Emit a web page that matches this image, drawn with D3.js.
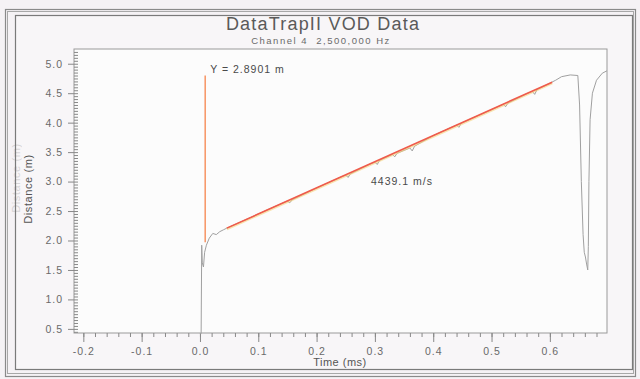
<!DOCTYPE html>
<html>
<head>
<meta charset="utf-8">
<title>DataTrapII VOD Data</title>
<script src="https://cdn.jsdelivr.net/npm/d3@7"></script>
<style>
  body { margin: 0; background: #f5f2f5; }
  svg { display: block; font-family: "Liberation Sans", Arial, sans-serif; }
</style>
</head>
<body>
<svg width="640" height="379"></svg>
<script>
// trace: time (ms) / distance (m)
var traceTime = [0.000, 0.002, 0.003, 0.004, 0.006, 0.008, 0.011, 0.016, 0.022, 0.028, 0.034, 0.040, 0.046,
  0.080, 0.120, 0.150, 0.154, 0.158, 0.200, 0.240, 0.250, 0.254, 0.258, 0.290, 0.300, 0.304, 0.308,
  0.330, 0.334, 0.338, 0.360, 0.364, 0.368, 0.400, 0.440, 0.444, 0.448, 0.500, 0.520, 0.524, 0.528,
  0.560, 0.570, 0.574, 0.578, 0.600, 0.610, 0.620, 0.635, 0.648, 0.651, 0.654, 0.657, 0.659, 0.661,
  0.663, 0.665, 0.666, 0.667, 0.669, 0.673, 0.680, 0.690, 0.698];
var traceDist = [0.42, 0.42, 1.92, 1.62, 1.55, 1.80, 1.92, 2.04, 2.12, 2.10, 2.15, 2.18, 2.21,
  2.36, 2.54, 2.67, 2.64, 2.69, 2.89, 3.07, 3.11, 3.07, 3.13, 3.29, 3.33, 3.29, 3.36,
  3.46, 3.42, 3.48, 3.57, 3.52, 3.60, 3.78, 3.96, 3.92, 3.99, 4.22, 4.31, 4.27, 4.33,
  4.49, 4.53, 4.48, 4.56, 4.67, 4.72, 4.78, 4.81, 4.80, 4.30, 3.00, 2.10, 1.80, 1.72,
  1.60, 1.50, 1.90, 3.00, 4.05, 4.50, 4.72, 4.84, 4.88];

var fitTime = [0.046, 0.604];
var velocity = 4439.1;           // m/s -> m/ms = 4.4391
var fitStart = 2.21;
var markerTime = 0.009;
var markerRange = [1.97, 4.80];

var xTicks = [-0.2, -0.1, 0.0, 0.1, 0.2, 0.3, 0.4, 0.5, 0.6];
var yTicks = [0.5, 1.0, 1.5, 2.0, 2.5, 3.0, 3.5, 4.0, 4.5, 5.0];

var svg = d3.select("svg");
var plotLeft = 74, plotRight = 607, plotTop = 49, plotBottom = 333;

var x = d3.scaleLinear().domain([-0.216, 0.698]).range([plotLeft, plotRight]);
var y = d3.scaleLinear().domain([0.43, 5.25]).range([plotBottom, plotTop]);
var fmt = function(d) { return d3.format(".1f")(d).replace("\u2212", "-"); };

// frames
svg.append("rect").attr("x", 5.5).attr("y", 9.5).attr("width", 630).attr("height", 367)
  .attr("fill", "none").attr("stroke", "#8a8a8a").attr("stroke-width", 1.2);
svg.append("rect").attr("x", 7.5).attr("y", 11.5).attr("width", 626).attr("height", 362)
  .attr("fill", "none").attr("stroke", "#a8a8a8").attr("stroke-width", 1);
svg.append("rect").attr("x", 15.5).attr("y", 15.5).attr("width", 617).attr("height", 354)
  .attr("fill", "#f8f6f8").attr("stroke", "#7a7a7a").attr("stroke-width", 1.2);

// faint ghost of the axis title printed through the page
svg.append("text").attr("transform", "translate(20,178) rotate(-90)").attr("text-anchor", "middle")
  .attr("font-size", 11).attr("letter-spacing", 0.6).attr("fill", "#777").attr("opacity", 0.25)
  .text("Distance (m)");

// plot box
svg.append("rect").attr("x", plotLeft).attr("y", plotTop)
  .attr("width", plotRight - plotLeft).attr("height", plotBottom - plotTop)
  .attr("fill", "#fcfcfc").attr("stroke", "#9a9a9a").attr("stroke-width", 1);

// titles
svg.append("text").attr("x", 323).attr("y", 30).attr("text-anchor", "middle")
  .attr("font-size", 18).attr("letter-spacing", 1.2).attr("fill", "#5a5a5a").text("DataTrapII VOD Data");
svg.append("text").attr("x", 321).attr("y", 44).attr("text-anchor", "middle")
  .attr("font-size", 9.5).attr("letter-spacing", 1.5).attr("fill", "#6a6a6a")
  .attr("xml:space", "preserve").text("Channel 4  2,500,000 Hz");

// x axis: minor then major
var gxMinor = svg.append("g").attr("transform", "translate(0," + plotBottom + ")")
  .call(d3.axisBottom(x).tickValues(d3.range(-0.2, 0.7, 0.02)).tickSize(4).tickFormat(""));
var gxMajor = svg.append("g").attr("transform", "translate(0," + plotBottom + ")")
  .call(d3.axisBottom(x).tickValues(xTicks).tickSize(9).tickPadding(6).tickFormat(fmt));
[gxMinor, gxMajor].forEach(function(g) {
  g.select("path.domain").remove();
  g.selectAll("line").attr("stroke", "#888");
});
gxMajor.selectAll("text").attr("fill", "#6a6a6a").attr("font-size", 10.5).attr("letter-spacing", 1);

// y axis: minor ticks inside, major ticks outside
var gyMinor = svg.append("g").attr("transform", "translate(" + plotLeft + ",0)")
  .call(d3.axisRight(y).tickValues(d3.range(0.45, 5.25, 0.05)).tickSize(4).tickFormat(""));
var gyMajor = svg.append("g").attr("transform", "translate(" + plotLeft + ",0)")
  .call(d3.axisLeft(y).tickValues(yTicks).tickSize(6).tickPadding(5).tickFormat(fmt));
[gyMinor, gyMajor].forEach(function(g) {
  g.select("path.domain").remove();
  g.selectAll("line").attr("stroke", "#888");
});
gyMajor.selectAll("text").attr("fill", "#6a6a6a").attr("font-size", 10.5).attr("letter-spacing", 1);

svg.append("text").attr("x", 340).attr("y", 366).attr("text-anchor", "middle")
  .attr("font-size", 11).attr("letter-spacing", 0.5).attr("fill", "#555").text("Time (ms)");
svg.append("text").attr("transform", "translate(32,189) rotate(-90)").attr("text-anchor", "middle")
  .attr("font-size", 11).attr("letter-spacing", 0.6).attr("fill", "#555").text("Distance (m)");

// data trace
var trace = d3.zip(traceTime, traceDist);
svg.append("path").datum(trace)
  .attr("d", d3.line().x(function(d) { return x(d[0]); }).y(function(d) { return y(d[1]); }))
  .attr("fill", "none").attr("stroke", "#a0a0a0").attr("stroke-width", 1);

// marker line
svg.append("line")
  .attr("x1", x(markerTime)).attr("x2", x(markerTime))
  .attr("y1", y(markerRange[0])).attr("y2", y(markerRange[1]))
  .attr("stroke", "#f79a6c").attr("stroke-width", 1.6);
svg.append("text").attr("x", x(markerTime) + 5).attr("y", 73)
  .attr("font-size", 10.5).attr("letter-spacing", 1).attr("fill", "#4a4a4a").text("Y = 2.8901 m");

// velocity fit
var fit = fitTime.map(function(t) { return [t, fitStart + velocity / 1000 * (t - fitTime[0])]; });
var fitLine = d3.line().x(function(d) { return x(d[0]); }).y(function(d) { return y(d[1]); });
svg.append("path").datum(fit).attr("d", fitLine)
  .attr("stroke", "#f7d27a").attr("stroke-width", 2.4).attr("opacity", 0.6)
  .attr("transform", "translate(0,1)");
svg.append("path").datum(fit).attr("d", fitLine)
  .attr("stroke", "#ef5a4c").attr("stroke-width", 1.6);
svg.append("text").attr("x", 402).attr("y", 185).attr("text-anchor", "middle")
  .attr("font-size", 10.5).attr("letter-spacing", 1).attr("fill", "#4a4a4a")
  .text(velocity.toFixed(1) + " m/s");
</script>
</body>
</html>
